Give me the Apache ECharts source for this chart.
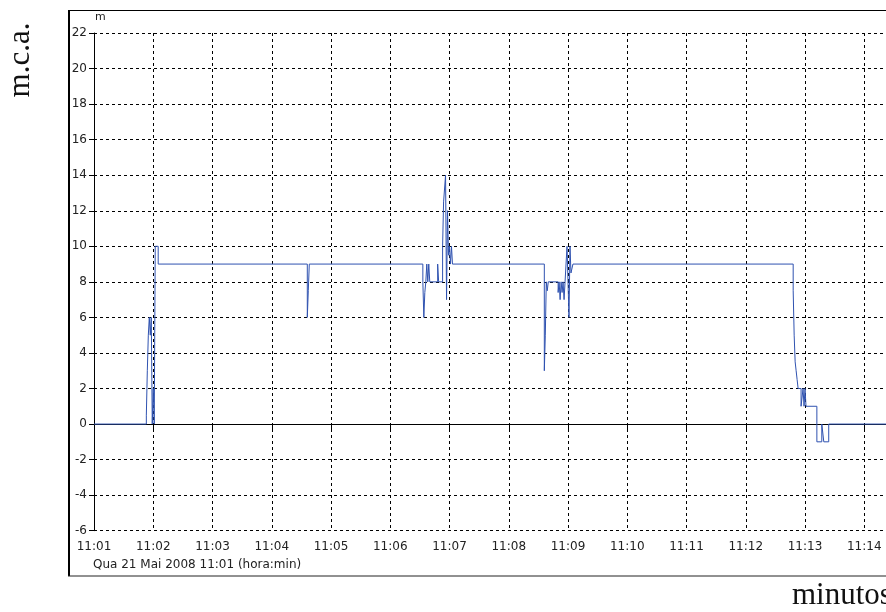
<!DOCTYPE html>
<html>
<head>
<meta charset="utf-8">
<script src="https://cdn.jsdelivr.net/npm/echarts@6/dist/echarts.min.js"></script>
<style>
  html, body { margin: 0; padding: 0; background: #fff; }
  #chart { width: 886px; height: 612px; }
</style>
</head>
<body>
<div id="chart"></div>
<script>
// Pressure log, Qua 21 Mai 2008, starting 11:01 (clock time of each change)
const sampleTimes = [
  '11:01:00','11:01:53','11:01:54','11:01:55','11:01:56','11:01:57','11:01:58','11:01:59',
  '11:02:00','11:02:01','11:02:02','11:02:05',
  '11:04:36','11:04:37','11:04:38',
  '11:06:33','11:06:34','11:06:35','11:06:36','11:06:37','11:06:38','11:06:39','11:06:40',
  '11:06:48','11:06:49','11:06:53','11:06:54','11:06:56','11:06:57','11:06:58','11:06:59',
  '11:07:00','11:07:01','11:07:02','11:07:03',
  '11:08:36','11:08:37','11:08:38','11:08:39','11:08:40','11:08:50','11:08:51','11:08:52',
  '11:08:53','11:08:54','11:08:55','11:08:56','11:08:57','11:08:59','11:09:01','11:09:02',
  '11:09:03','11:09:05',
  '11:12:48','11:12:49','11:12:50','11:12:51','11:12:52','11:12:53','11:12:56','11:12:58',
  '11:12:59','11:13:00','11:13:01','11:13:12','11:13:17','11:13:19','11:13:24','11:14:22'
];
// Water column (m) held from each time until the next one
const pressure = [
  0, 0.5, 3, 5, 6, 5, 6, 0,
  2, 0, 10, 9,
  6, 7.5, 9,
  8, 6, 7.4, 8, 9, 8, 9, 8,
  9, 8, 10, 12.5, 14, 7, 12, 9.5,
  10, 9, 10, 9,
  3, 5, 8, 7.5, 8, 7.4, 8, 7,
  8, 7.4, 8, 7, 8, 10, 6, 10,
  8.5, 9,
  7.5, 5, 3.5, 3, 2.5, 2, 1, 2,
  1, 2, 1, -1, 0, -1, 0, 0
];
const startClock = '11:01:00';
const endClock = '11:14:22';
const dateLabel = 'Qua 21 Mai 2008 11:01 (hora:min)';
const yTitle = 'm.c.a.';
const xTitle = 'minutos';
const unitLabel = 'm';

function toSec(clock) {
  const p = clock.split(':').map(Number);
  return p[0] * 3600 + p[1] * 60 + p[2];
}
const t0 = toSec(startClock);
const seriesData = sampleTimes.map((c, i) => [toSec(c) - t0, pressure[i]]);

function clockLabel(s) {
  if (s % 60 !== 0) return '';
  const total = t0 + s;
  const h = Math.floor(total / 3600);
  const m = Math.floor((total % 3600) / 60);
  return h + ':' + String(m).padStart(2, '0');
}

const chart = echarts.init(document.getElementById('chart'), null, { renderer: 'canvas' });
const sans = 'DejaVu Sans, Verdana, sans-serif';
const serif = 'Liberation Serif, Times New Roman, serif';
const gridDash = { color: '#000', width: 1, type: [3, 3] };

chart.setOption({
  animation: false,
  backgroundColor: '#fff',
  grid: { left: 94, right: 0, top: 33, bottom: 81.3, containLabel: false, outerBoundsMode: 'none' },
  xAxis: {
    type: 'value',
    min: 0,
    max: toSec(endClock) - t0,
    interval: 60,
    axisLine: { show: true, lineStyle: { color: '#000', width: 1 } },
    axisTick: { show: true, length: 6, lineStyle: { color: '#000' } },
    axisLabel: {
      margin: 10, color: '#222', fontFamily: sans, fontSize: 12,
      formatter: clockLabel
    },
    splitLine: { show: true, lineStyle: gridDash }
  },
  yAxis: {
    type: 'value',
    min: -6,
    max: 22,
    interval: 2,
    axisLine: { show: true, lineStyle: { color: '#000', width: 1 } },
    axisTick: { show: true, length: 5, lineStyle: { color: '#000' } },
    axisLabel: { margin: 7, color: '#222', fontFamily: sans, fontSize: 12 },
    splitLine: { show: true, lineStyle: gridDash }
  },
  series: [{
    type: 'line',
    step: 'end',
    data: seriesData,
    showSymbol: false,
    lineStyle: { color: '#2f52b0', width: 1 },
    z: 5
  }],
  graphic: [
    { type: 'line', shape: { x1: 69, y1: 10, x2: 69, y2: 576 }, style: { stroke: '#000', lineWidth: 2 } },
    { type: 'line', shape: { x1: 68, y1: 10.5, x2: 886, y2: 10.5 }, style: { stroke: '#000', lineWidth: 1 } },
    { type: 'line', shape: { x1: 68, y1: 576, x2: 886, y2: 576 }, style: { stroke: '#222', lineWidth: 1 } },
    { type: 'text', x: 95, y: 17, style: { text: unitLabel, font: '11px ' + sans, fill: '#222', verticalAlign: 'middle' } },
    { type: 'text', x: 93, y: 565, style: { text: dateLabel, font: '12px ' + sans, fill: '#222', verticalAlign: 'middle' } },
    { type: 'text', x: 36, y: 60, rotation: Math.PI / 2,
      style: { text: yTitle, font: '31px ' + serif, fill: '#111', align: 'center', verticalAlign: 'bottom' } },
    { type: 'text', x: 792, y: 596,
      style: { text: xTitle, font: '31px ' + serif, fill: '#111', align: 'left', verticalAlign: 'middle' } }
  ]
});
</script>
</body>
</html>
